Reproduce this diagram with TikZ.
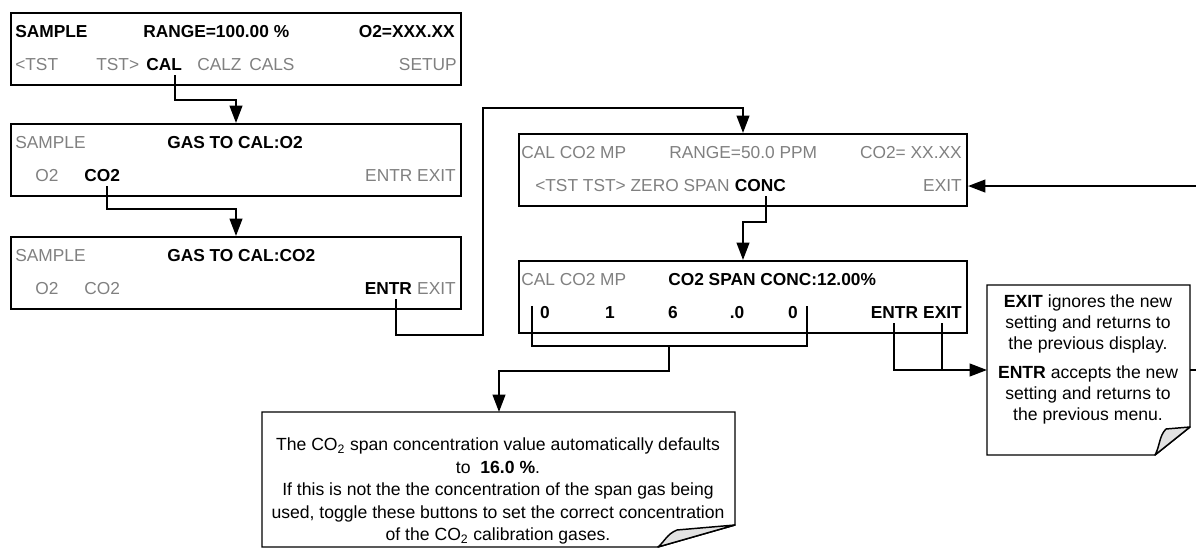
\documentclass[tikz,border=0pt]{standalone}
\usepackage{fontspec}
\setmainfont{Liberation Sans}
\usetikzlibrary{arrows.meta,calc}
\definecolor{tgray}{RGB}{128,128,128}
\definecolor{flapgray}{RGB}{226,226,226}
\newcommand\dfont{\fontsize{13}{15.6}\selectfont}
\newcommand\nfont{\fontsize{13.2}{15.75}\selectfont}
\newcommand\bfont{\fontsize{13.2}{16.9}\selectfont}
\begin{document}
\begin{tikzpicture}[x=0.75pt,y=-0.75pt,
  dbox/.style={draw,line width=1.5pt,anchor=north west,inner sep=0pt,minimum height=54pt},
  txt/.style={inner xsep=0pt,inner ysep=3pt,font=\dfont},
  bt/.style={txt,font=\dfont\bfseries},
  gt/.style={txt,text=tgray},
  wire/.style={line width=1.5pt},
  conn/.style={line width=1.5pt,-{Triangle[length=13pt,width=9.5pt]}},
  notebox/.style={draw,line width=1.1pt,fill=white},
  flap/.style={draw,line width=1.1pt,fill=flapgray,line join=round}]
\useasboundingbox (0,0) rectangle (1196,548);

% ---------- display boxes ----------
\node[dbox,minimum width=337.5pt] (b1) at (10,12) {};
\node[dbox,minimum width=337.5pt] (b2) at (10,123) {};
\node[dbox,minimum width=337.5pt] (b3) at (10,236) {};
\node[dbox,minimum width=336pt] (b4) at (518,133) {};
\node[dbox,minimum width=336pt] (b5) at (518,260) {};

% box 1
\node[bt,anchor=base west] (b1sample) at (15,38) {SAMPLE};
\node[bt,anchor=base west] (b1range) at (143,38) {RANGE=100.00 \%};
\node[bt,anchor=base east] (b1o2) at (455,38) {O2=XXX.XX};
\node[gt,anchor=base west] (b1tl) at (15,71) {<TST};
\node[gt,anchor=base west] (b1tr) at (96,71) {TST>};
\node[bt,anchor=base west] (b1cal) at (146,71) {CAL};
\node[gt,anchor=base west] (b1calz) at (197,71) {CALZ};
\node[gt,anchor=base west] (b1cals) at (249,71) {CALS};
\node[gt,anchor=base east] (b1setup) at (457,71) {SETUP};

% box 2
\node[gt,anchor=base west] (b2sample) at (15,149) {SAMPLE};
\node[bt,anchor=base west] (b2gas) at (167,149) {GAS TO CAL:O2};
\node[gt,anchor=base west] (b2o2) at (35,182) {O2};
\node[bt,anchor=base west] (b2co2) at (84,182) {CO2};
\node[gt,anchor=base east] (b2ee) at (456,182) {ENTR EXIT};

% box 3
\node[gt,anchor=base west] (b3sample) at (15,262) {SAMPLE};
\node[bt,anchor=base west] (b3gas) at (167,262) {GAS TO CAL:CO2};
\node[gt,anchor=base west] (b3o2) at (35,295) {O2};
\node[gt,anchor=base west] (b3co2) at (84,295) {CO2};
\node[gt,anchor=base east] (b3exit) at (456,295) {EXIT};
\node[bt,anchor=base east] (b3entr) at ([xshift=-3.5pt]b3exit.base west) {ENTR};

% box 4
\node[gt,anchor=base west] (b4cal) at (521,159) {CAL CO2 MP};
\node[gt,anchor=base west] (b4range) at (669,159) {RANGE=50.0 PPM};
\node[gt,anchor=base east] (b4co2) at (962,159) {CO2= XX.XX};
\node[gt,anchor=base west] (b4menu) at (535,192) {<TST TST> ZERO SPAN};
\node[bt,anchor=base west] (b4conc) at ([xshift=3.6pt]b4menu.base east) {CONC};
\node[gt,anchor=base east] (b4exit) at (962,192) {EXIT};

% box 5
\node[gt,anchor=base west] (b5cal) at (521,286) {CAL CO2 MP};
\node[bt,anchor=base west] (b5span) at (668,286) {CO2 SPAN CONC:12.00\%};
\node[bt,anchor=base] (d1) at (545,319) {0};
\node[bt,anchor=base] (d2) at (610,319) {1};
\node[bt,anchor=base] (d3) at (673,319) {6};
\node[bt,anchor=base] (d4) at (737,319) {.0};
\node[bt,anchor=base] (d5) at (793,319) {0};
\node[bt,anchor=base east] (b5exit) at (962,319) {EXIT};
\node[bt,anchor=base east] (b5entr) at ([xshift=-3.5pt]b5exit.base west) {ENTR};

% ---------- notes ----------
\coordinate (rnNW) at (987,285);
\coordinate (rnNE) at (1190,285);
\coordinate (rnW) at (987,370);
\coordinate (rnE) at (1190,370);
\draw[notebox] (rnNW) -- (rnNE) -- (1190,427) -- (1155,455) -- (987,455) -- cycle;
\draw[flap] (1190,427) -- (1166,429) .. controls (1159,436) and (1160,446) .. (1155,455) -- cycle;
\node[font=\nfont,align=center,inner sep=0pt] (rn1) at (1088,324)
  {\textbf{EXIT} ignores the new\\setting and returns to\\the previous display.};
\node[font=\nfont,align=center,inner sep=0pt] (rn2) at (1088,395)
  {\textbf{ENTR} accepts the new\\setting and returns to\\the previous menu.};

\coordinate (bnN) at (499,412);
\draw[notebox] (262,412) -- (735,412) -- (735,525) -- (658,547) -- (262,547) -- cycle;
\draw[flap] (735,525) -- (677,530) .. controls (667,534) and (665,541) .. (658,547) -- cycle;
\node[font=\bfont,align=center,inner sep=0pt] (bn) at (498,491)
  {The CO\textsubscript{2} span concentration value automatically defaults\\
   to \ \textbf{16.0 \%}.\\
   If this is not the the concentration of the span gas being\\
   used, toggle these buttons to set the correct concentration\\
   of the CO\textsubscript{2} calibration gases.};

% ---------- connectors ----------
\draw[conn] ([xshift=8pt]b1cal.south) |- ($(b2.north)+(0,-23)$) -- (b2.north);
\draw[conn] ([xshift=4pt]b2co2.south) |- ($(b3.north)+(0,-27)$) -- (b3.north);
\coordinate (j1) at (483,335);
\coordinate (j2) at (483,108);
\draw[conn] ([xshift=6pt]b3entr.south) |- (j1) -- (j2) -| (b4.north);
\draw[conn] ([xshift=4pt]b4conc.south) |- ($(b5.north)+(0,-38)$) -- (b5.north);

\coordinate (brL) at (532,306);
\coordinate (brR) at (807,306);
\coordinate (brM) at (669,346);
\draw[wire] (brL) |- (brR |- brM) -- (brR);
\draw[conn] (brM) -- ++(0,25) -| (bnN);

\draw[conn] (b5entr.south) |- (rnW);
\draw[wire] (b5exit.south) -- (b5exit.south |- rnW);
\draw[conn] (rnE) -- (1198,370) |- (b4.east |- b4exit);
\end{tikzpicture}
\end{document}
